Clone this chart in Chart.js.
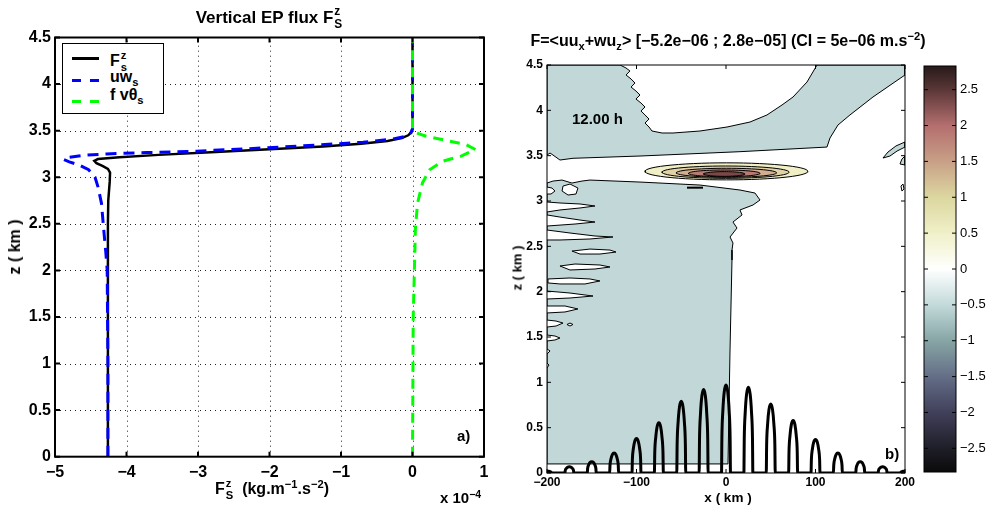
<!DOCTYPE html>
<html><head><meta charset="utf-8">
<script src="https://cdn.jsdelivr.net/npm/chart.js@4"></script>
<style>
html,body{margin:0;padding:0;background:#fff;}
#wrap{position:relative;width:986px;height:513px;overflow:hidden;font-family:"Liberation Sans",Arial,Helvetica,sans-serif;}
canvas{position:absolute;left:0;top:0;}
.t{position:absolute;white-space:nowrap;font-weight:bold;color:#000;line-height:1;}
.t sub{font-size:0.7em;vertical-align:-0.32em;line-height:0;}
.t sup{font-size:0.7em;vertical-align:0.5em;line-height:0;}
.stk{display:inline-block;vertical-align:middle;font-size:0.7em;line-height:1.1;margin-left:1px;}
.stk span{display:block;}
#legend{position:absolute;left:62px;top:43px;width:100px;height:69px;border:1px solid #000;background:#fff;}
.ls{position:absolute;left:9px;width:27px;height:3px;}
</style></head><body>
<div id="wrap">
<canvas id="c1" width="986" height="513"></canvas>
<canvas id="c2" width="986" height="513"></canvas>
<canvas id="c3" width="986" height="513"></canvas>

<div class="t" style="left:269px;top:5px;font-size:17px;transform:translateX(-50%)">Vertical EP flux F<span class="stk"><span>z</span><span>S</span></span></div>
<div class="t" style="left:15px;top:247px;font-size:16px;transform:translate(-50%,-50%) rotate(-90deg)">z ( km )</div>
<div class="t" style="left:272px;top:477px;font-size:16px;transform:translateX(-50%)">F<span class="stk"><span>z</span><span>S</span></span>&nbsp; (kg.m<sup>−1</sup>.s<sup>−2</sup>)</div>
<div class="t" style="left:440px;top:490px;font-size:15px;">x 10<sup>−4</sup></div>
<div class="t" style="left:457px;top:428px;font-size:15px;">a)</div>

<div id="legend">
  <div class="ls" style="top:13px;background:#000;"></div>
  <div class="ls" style="top:35px;background:repeating-linear-gradient(90deg,#0000ff 0 9px,transparent 9px 18px);"></div>
  <div class="ls" style="top:56px;background:repeating-linear-gradient(90deg,#00ff00 0 9px,transparent 9px 18px);"></div>
  <div class="t" style="left:47px;top:5px;font-size:16px;">F<span class="stk"><span>z</span><span>s</span></span></div>
  <div class="t" style="left:47px;top:25px;font-size:16px;">uw<sub>s</sub></div>
  <div class="t" style="left:47px;top:43px;font-size:16px;">f vθ<sub>s</sub></div>
</div>

<div class="t" style="left:728px;top:33px;font-size:16px;transform:translateX(-50%)">F=&lt;uu<sub>x</sub>+wu<sub>z</sub>&gt; [−5.2e−06 ; 2.8e−05] (CI = 5e−06 m.s<sup>−2</sup>)</div>
<div class="t" style="left:517px;top:268px;font-size:13px;transform:translate(-50%,-50%) rotate(-90deg)">z ( km )</div>
<div class="t" style="left:728px;top:491px;font-size:13.5px;transform:translateX(-50%)">x ( km )</div>
<div class="t" style="left:572px;top:111px;font-size:15px;">12.00 h</div>
<div class="t" style="left:885px;top:446px;font-size:15px;">b)</div>
</div>

<script>
// ---------- Panel a) : vertical EP flux profiles (x values in units of 1e-4 kg.m-1.s-2) ----------
const fluxZ = [0, 1.0, 2.0, 2.5, 2.75, 2.95, 3.05, 3.09, 3.12, 3.15, 3.175, 3.195, 3.215, 3.24, 3.27, 3.30, 3.33, 3.36, 3.39, 3.42, 3.45, 3.48, 3.52, 3.6, 4.5];
const fluxF = [-4.26, -4.26, -4.26, -4.26, -4.255, -4.235, -4.23, -4.26, -4.33, -4.42, -4.45, -4.40, -4.10, -3.55, -2.75, -2.0, -1.25, -0.72, -0.35, -0.15, -0.06, -0.02, 0, 0, 0];
const uwZ = [0, 1.0, 2.0, 2.2, 2.45, 2.72, 2.9, 3.0, 3.08, 3.13, 3.165, 3.19, 3.215, 3.235, 3.25, 3.265, 3.28, 3.30, 3.333, 3.376, 3.41, 3.44, 3.48, 3.52, 4.5];
const uwF = [-4.26, -4.26, -4.27, -4.29, -4.32, -4.35, -4.40, -4.44, -4.53, -4.66, -4.80, -4.88, -4.80, -4.60, -4.28, -3.72, -3.02, -2.46, -1.62, -0.69, -0.27, -0.085, -0.02, 0, 0];
const fvZ = [0, 1.5, 2.11, 2.44, 2.72, 2.94, 3.08, 3.172, 3.226, 3.298, 3.35, 3.387, 3.44, 3.48, 3.52, 4.5];
const fvF = [0, 0.01, 0.03, 0.04, 0.07, 0.14, 0.24, 0.42, 0.68, 0.88, 0.75, 0.52, 0.19, 0.04, 0, 0];
const leftXTicks = [-5, -4, -3, -2, -1, 0, 1];
const leftZTicks = [0, 0.5, 1, 1.5, 2, 2.5, 3, 3.5, 4, 4.5];

// ---------- Panel b) : contour regions (x in km, z in km) ----------
const rightXTicks = [-200, -100, 0, 100, 200];
const rightZTicks = [0, 0.5, 1, 1.5, 2, 2.5, 3, 3.5, 4, 4.5];
// band between -0.5e-5 and 0 (shaded)
const upperNegRegion = [[-200,4.5],[-118.4,4.5],[-111.7,4.467],[-107.3,4.434],[-111.7,4.39],[-106.1,4.346],[-101.7,4.301],[-106.1,4.257],[-100.6,4.213],[-96.1,4.169],[-100.6,4.125],[-95.0,4.081],[-90.5,4.037],[-95.0,3.993],[-90.5,3.949],[-86.0,3.904],[-90.5,3.86],[-86.0,3.816],[-82.7,3.772],[-71.5,3.75],[-59.2,3.75],[-29.1,3.772],[1.1,3.816],[26.8,3.871],[45.8,3.949],[62.6,4.059],[74.9,4.147],[90.5,4.312],[101.7,4.5],[200,4.5],[200,4.39],[164.2,4.147],[138.5,3.949],[125.1,3.838],[116.2,3.695],[112.8,3.595],[15.6,3.544],[-96.1,3.496],[-171.0,3.471],[-185.5,3.452],[-193.3,3.507],[-196.6,3.529],[-200,3.507],[-200,4.5]];
const lowerNegRegion = [[-200,3.198],[-193.3,3.22],[-183.2,3.231],[-172.1,3.198],[-160.9,3.22],[-152.0,3.231],[-96.1,3.209],[-29.1,3.176],[15.6,3.121],[32.4,3.088],[38.0,3.011],[30.2,2.956],[15.6,2.901],[17.9,2.846],[7.8,2.768],[12.3,2.702],[4.5,2.603],[7.8,2.537],[6.7,2.459],[6.7,2.349],[4.5,1.357],[2.2,0.1],[-200,0.1],[-200,3.198]];
const rightNegLeaf = [[175.4,3.474],[181.0,3.54],[189.9,3.607],[200,3.651],[200,3.595],[191.1,3.551],[183.2,3.496],[175.4,3.474]];
const rightNegBlob = [[194.4,3.408],[196.6,3.463],[200,3.496],[200,3.397],[194.4,3.408]];
// holes (values between 0 and 0.5e-5) inside the shaded band
const holes = [
  [[-182.1,3.165],[-174.3,3.187],[-165.4,3.143],[-167.6,3.077],[-176.5,3.066],[-183.2,3.11],[-182.1,3.165]],
  [[-200,3.154],[-194.4,3.143],[-191.1,3.11],[-195.5,3.077],[-200,3.077]],
  [[-200,2.989],[-185.5,2.978],[-163.1,2.967],[-146.4,2.945],[-163.1,2.923],[-185.5,2.901],[-200,2.879]],
  [[-200,2.846],[-185.5,2.823],[-163.1,2.79],[-146.4,2.768],[-168.7,2.746],[-200,2.724]],
  [[-200,2.68],[-174.3,2.647],[-146.4,2.614],[-126.3,2.603],[-152.0,2.581],[-185.5,2.57],[-200,2.57]],
  [[-172.1,2.448],[-152.0,2.47],[-129.6,2.459],[-122.9,2.437],[-140.8,2.415],[-163.1,2.415],[-172.1,2.448]],
  [[-185.5,2.283],[-168.7,2.305],[-140.8,2.294],[-129.6,2.272],[-146.4,2.25],[-174.3,2.239],[-185.5,2.283]],
  [[-198.9,2.14],[-174.3,2.151],[-152.0,2.14],[-140.8,2.118],[-157.5,2.085],[-185.5,2.085],[-198.9,2.096],[-198.9,2.14]],
  [[-200,2.007],[-174.3,1.985],[-148.6,1.952],[-174.3,1.93],[-200,1.919]],
  [[-200,1.842],[-179.9,1.842],[-165.4,1.809],[-179.9,1.776],[-200,1.765]],
  [[-200,1.687],[-189.9,1.676],[-182.1,1.654],[-189.9,1.621],[-200,1.61]],
  [[-177.7,1.638],[-174.3,1.654],[-171.0,1.638],[-174.3,1.621],[-177.7,1.638]],
  [[-200,1.522],[-191.1,1.511],[-185.5,1.489],[-191.1,1.467],[-200,1.456]],
  [[-200,1.368],[-196.6,1.346],[-200,1.312]],
  [[-200,1.213],[-197.8,1.191],[-200,1.158]],
  [[195.5,3.165],[197.8,3.187],[198.9,3.132],[196.6,3.11],[195.5,3.165]]
];
// positive contours (0.5,1,1.5,2,2.5 x 1e-5): centre and half extents
const posCenterX = [0.5, -0.5, 0.5, -2, -2];
const posCenterZ = [3.327, 3.318, 3.311, 3.305, 3.298];
const posHalfW = [91, 71, 56, 40, 23];
const posHalfH = [0.094, 0.068, 0.05, 0.037, 0.026];
const posColors = ['#f0efc6', '#e2d3a6', '#d2ad8f', '#b97b76', '#7a4848'];
const minusDash = [[-43.6,3.147],[-25.7,3.147]];
// topography (km): arch centres and heights
const peakX = [-200,-175,-150,-125,-100,-75,-50,-25,0,25,50,75,100,125,150,175,200];
const peakH = [0.02,0.07,0.125,0.22,0.38,0.555,0.79,0.92,0.97,0.945,0.76,0.58,0.37,0.22,0.125,0.07,0.02];
const archProfile = [[-5,0],[-4.6,0.4],[-3.5,0.71],[-2,0.92],[0,1],[2,0.92],[3.5,0.71],[4.6,0.4],[5,0]];

// ---------- colour bar ----------
const cbMin = -2.83, cbMax = 2.83;
const cbTicks = [-2.5, -2, -1.5, -1, -0.5, 0, 0.5, 1, 1.5, 2, 2.5];
const cbStopValues = [-2.83, -2.5, -2.0, -1.5, -1.0, -0.5, 0, 0.5, 1.0, 1.5, 2.0, 2.5, 2.83];
const cbStopColors = ['#0a0a0a','#1e1e28','#41405a','#646e87','#87a5a5','#c3dada','#ffffff','#f0f0c8','#dcd7a0','#c8a087','#b46e6e','#5a3737','#281919'];
const shadeColor = '#c2d8d8';

// ---------- helpers ----------
const zip = (xs, zs) => xs.map((x, i) => ({x: x, y: zs[i]}));
const pts = arr => arr.map(p => ({x: p[0], y: p[1]}));
const fmt = v => { const r = Math.round(v * 100) / 100; return (r < 0 ? '\u2212' : '') + Math.abs(r); };
const fixTicks = arr => (s => { s.ticks = arr.map(v => ({value: v})); });

function framePlugin(o) {
  return {
    id: 'frame',
    beforeDatasetsDraw(chart) {
      if (!o.grid) return;
      const {ctx, chartArea: a, scales} = chart;
      ctx.save();
      ctx.strokeStyle = '#222';
      ctx.lineWidth = 1;
      ctx.setLineDash([1, 4]);
      ctx.beginPath();
      for (const t of scales.x.ticks) {
        const p = Math.round(scales.x.getPixelForValue(t.value)) + 0.5;
        if (p <= a.left + 2 || p >= a.right - 2) continue;
        ctx.moveTo(p, a.bottom); ctx.lineTo(p, a.top);
      }
      for (const t of scales.y.ticks) {
        const p = Math.round(scales.y.getPixelForValue(t.value)) + 0.5;
        if (p <= a.top + 2 || p >= a.bottom - 2) continue;
        ctx.moveTo(a.left, p); ctx.lineTo(a.right, p);
      }
      ctx.stroke();
      ctx.restore();
    },
    afterDraw(chart) {
      const {ctx, chartArea: a, scales} = chart;
      ctx.save();
      ctx.strokeStyle = '#000';
      ctx.lineWidth = o.w;
      ctx.strokeRect(a.left, a.top, a.right - a.left, a.bottom - a.top);
      ctx.lineWidth = o.tw;
      ctx.beginPath();
      if (o.x) {
        for (const t of scales.x.ticks) {
          const p = scales.x.getPixelForValue(t.value);
          ctx.moveTo(p, a.bottom); ctx.lineTo(p, a.bottom - o.len);
          ctx.moveTo(p, a.top); ctx.lineTo(p, a.top + o.len);
        }
      }
      const ys = scales.y;
      for (const t of ys.ticks) {
        const p = ys.getPixelForValue(t.value);
        ctx.moveTo(a.left, p); ctx.lineTo(a.left + o.len, p);
        ctx.moveTo(a.right, p); ctx.lineTo(a.right - o.len, p);
      }
      ctx.stroke();
      ctx.restore();
    }
  };
}

Chart.defaults.font.family = '"Liberation Sans", Arial, sans-serif';
Chart.defaults.color = '#000';

// ---------- chart a ----------
new Chart(document.getElementById('c1'), {
  type: 'line',
  data: {datasets: [
    {data: zip(fvF, fvZ), borderColor: '#00ff00', borderWidth: 3, borderDash: [10, 7], order: 1},
    {data: zip(uwF, uwZ), borderColor: '#0000ff', borderWidth: 3, borderDash: [11, 7], order: 2},
    {data: zip(fluxF, fluxZ), borderColor: '#000000', borderWidth: 2.5, order: 3}
  ]},
  options: {
    responsive: false, animation: false, devicePixelRatio: 1, events: [],
    elements: {point: {radius: 0}, line: {tension: 0, fill: false}},
    layout: {padding: {left: 15, right: 502, top: 37.5, bottom: 26.3}},
    plugins: {legend: {display: false}, tooltip: {enabled: false}},
    scales: {
      x: {type: 'linear', min: -5, max: 1, afterBuildTicks: fixTicks(leftXTicks),
          ticks: {callback: fmt, font: {size: 16, weight: 'bold'}, padding: 6, maxRotation: 0, autoSkip: false},
          grid: {display: false, drawTicks: false}, border: {display: false},
          afterFit: s => { s.height = 30; }},
      y: {type: 'linear', min: 0, max: 4.5, afterBuildTicks: fixTicks(leftZTicks),
          ticks: {callback: fmt, font: {size: 16, weight: 'bold'}, padding: 4, autoSkip: false},
          grid: {display: false, drawTicks: false}, border: {display: false},
          afterFit: s => { s.width = 40; }}
    }
  },
  plugins: [framePlugin({w: 2, tw: 2, len: 5, x: true, grid: true})]
});

// ---------- chart b ----------
const ds2 = [];
const poly = (arr, fillColor, order, extra) => Object.assign({
  data: pts(arr), borderColor: '#000', borderWidth: 1, backgroundColor: fillColor, fill: 'shape', order: order
}, extra || {});
ds2.push(poly(upperNegRegion, shadeColor, 30));
ds2.push(poly(lowerNegRegion, shadeColor, 30));
ds2.push(poly(rightNegLeaf, shadeColor, 30));
ds2.push(poly(rightNegBlob, shadeColor, 30));
holes.forEach(h => ds2.push(poly(h, '#ffffff', 20)));
posHalfW.forEach((a, i) => {
  const ring = [];
  for (let k = 0; k <= 60; k++) {
    const t = k / 60 * 2 * Math.PI;
    ring.push([posCenterX[i] + a * Math.cos(t), posCenterZ[i] + posHalfH[i] * Math.sin(t)]);
  }
  ds2.push(poly(ring, posColors[i], 15 - i));
});
ds2.push({data: pts(minusDash), borderColor: '#000', borderWidth: 2, fill: false, order: 3});
const terrain = [];
peakX.forEach((x0, i) => archProfile.forEach(([dx, f]) => {
  const x = x0 + dx;
  if (x >= -200 && x <= 200) terrain.push({x: x, y: f * peakH[i]});
}));
ds2.push({data: terrain, borderColor: '#000', borderWidth: 3, fill: false, cubicInterpolationMode: 'monotone', order: 1});

new Chart(document.getElementById('c2'), {
  type: 'line',
  data: {datasets: ds2},
  options: {
    responsive: false, animation: false, devicePixelRatio: 1, events: [],
    elements: {point: {radius: 0}, line: {tension: 0}},
    layout: {padding: {left: 517, right: 81, top: 65, bottom: 15}},
    plugins: {legend: {display: false}, tooltip: {enabled: false}},
    scales: {
      x: {type: 'linear', min: -200, max: 200, afterBuildTicks: fixTicks(rightXTicks),
          ticks: {callback: fmt, font: {size: 12, weight: 'bold'}, padding: 2, maxRotation: 0, autoSkip: false},
          grid: {display: false, drawTicks: false}, border: {display: false},
          afterFit: s => { s.height = 25; }},
      y: {type: 'linear', min: 0, max: 4.5, afterBuildTicks: fixTicks(rightZTicks),
          ticks: {callback: fmt, font: {size: 12, weight: 'bold'}, padding: 4, autoSkip: false},
          grid: {display: false, drawTicks: false}, border: {display: false},
          afterFit: s => { s.width = 30; }}
    }
  },
  plugins: [framePlugin({w: 1, tw: 1, len: 4, x: true})]
});

// ---------- colour bar ----------
new Chart(document.getElementById('c3'), {
  type: 'bar',
  data: {labels: ['cb'], datasets: [{
    data: [[cbMin, cbMax]], borderWidth: 0, barPercentage: 1, categoryPercentage: 1,
    backgroundColor: ctx => {
      const a = ctx.chart.chartArea;
      if (!a) return '#fff';
      const g = ctx.chart.ctx.createLinearGradient(0, a.bottom, 0, a.top);
      cbStopValues.forEach((v, i) => g.addColorStop((v - cbMin) / (cbMax - cbMin), cbStopColors[i]));
      return g;
    }
  }]},
  options: {
    responsive: false, animation: false, devicePixelRatio: 1, events: [],
    layout: {padding: {left: 924, right: 0, top: 66, bottom: 41}},
    plugins: {legend: {display: false}, tooltip: {enabled: false}},
    scales: {
      x: {display: false},
      y: {position: 'right', min: cbMin, max: cbMax, afterBuildTicks: fixTicks(cbTicks),
          ticks: {callback: fmt, font: {size: 13}, padding: 4, autoSkip: false},
          grid: {display: false, drawTicks: false}, border: {display: false},
          afterFit: s => { s.width = 30; }}
    }
  },
  plugins: [framePlugin({w: 1, tw: 1, len: 4, x: false})]
});
</script>
</body></html>
